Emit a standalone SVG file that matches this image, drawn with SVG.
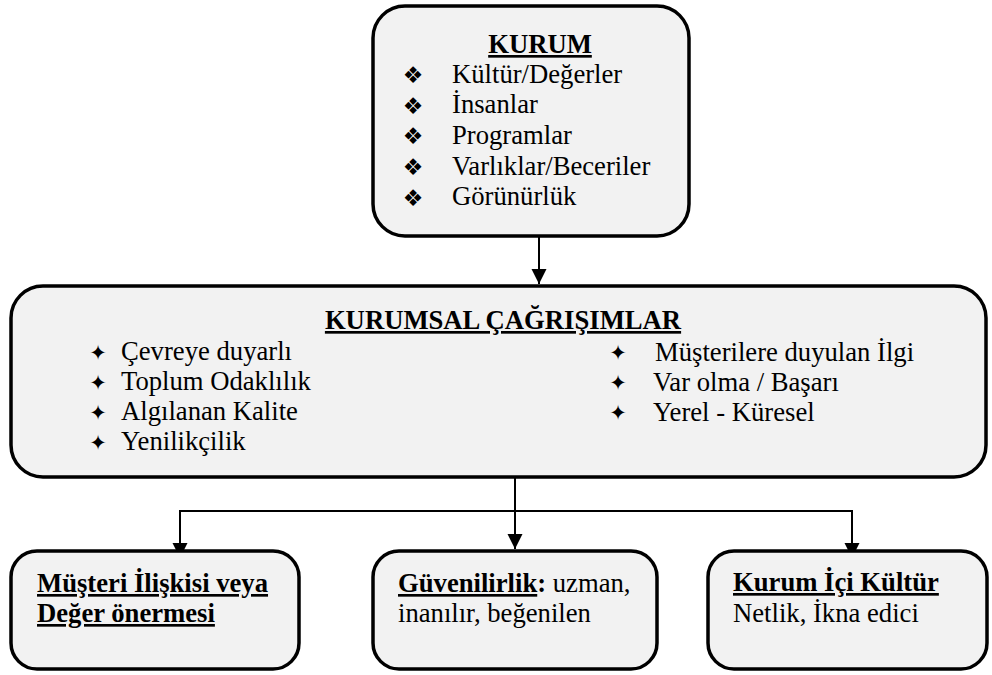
<svg xmlns="http://www.w3.org/2000/svg" width="992" height="675" viewBox="0 0 992 675">
<style>
.box{fill:#f2f2f2;stroke:#000;stroke-width:3.5}
.t{font-family:'Liberation Serif','DejaVu Serif',serif;font-size:26.67px;fill:#000}
.b{font-weight:bold}
.u{text-decoration:underline}
.sym{font-family:'DejaVu Sans',sans-serif;fill:#000;text-anchor:middle}
.c{fill:none;stroke:#000;stroke-width:2}
</style>
<defs>
<marker id="ah" markerWidth="16" markerHeight="16" refX="15" refY="7.5" orient="auto" markerUnits="userSpaceOnUse">
<path d="M0,0 L15,7.5 L0,15 z" fill="#000"/>
</marker>
</defs>
<rect width="992" height="675" fill="#fff"/>
<g id="connectors">
<line class="c" x1="539" y1="237" x2="539" y2="284" marker-end="url(#ah)"/>
<line class="c" x1="515" y1="478" x2="515" y2="549" marker-end="url(#ah)"/>
<polyline class="c" points="180,558 180,511 852,511 852,558"/>
<line class="c" x1="180" y1="511" x2="180" y2="558" marker-end="url(#ah)"/>
<line class="c" x1="852" y1="511" x2="852" y2="558" marker-end="url(#ah)"/>
</g>
<g id="kurum">
<rect class="box" x="373" y="6" width="316" height="230" rx="32"/>
<text class="t b u" x="540" y="53" text-anchor="middle">KURUM</text>
<g class="sym" font-size="23">
<text x="413" y="83">❖</text>
<text x="413" y="113.7">❖</text>
<text x="413" y="144.4">❖</text>
<text x="413" y="175.1">❖</text>
<text x="413" y="205.8">❖</text>
</g>
<text class="t" x="452" y="82.5">Kültür/Değerler</text>
<text class="t" x="452" y="113.2">İnsanlar</text>
<text class="t" x="452" y="143.9">Programlar</text>
<text class="t" x="452" y="174.6">Varlıklar/Beceriler</text>
<text class="t" x="452" y="205.3">Görünürlük</text>
</g>
<g id="kurumsal">
<rect class="box" x="11" y="286" width="975" height="191" rx="32"/>
<text class="t b u" x="503" y="329" text-anchor="middle">KURUMSAL ÇAĞRIŞIMLAR</text>
<g class="sym" font-size="21">
<text x="98" y="360">✦</text>
<text x="98" y="390">✦</text>
<text x="98" y="420">✦</text>
<text x="98" y="450">✦</text>
<text x="618" y="360">✦</text>
<text x="618" y="390">✦</text>
<text x="618" y="420">✦</text>
</g>
<text class="t" x="121" y="360">Çevreye duyarlı</text>
<text class="t" x="121" y="390">Toplum Odaklılık</text>
<text class="t" x="121" y="420">Algılanan Kalite</text>
<text class="t" x="121" y="450">Yenilikçilik</text>
<text class="t" x="655" y="361">Müşterilere duyulan İlgi</text>
<text class="t" x="653" y="391">Var olma / Başarı</text>
<text class="t" x="653" y="421">Yerel - Küresel</text>
</g>
<g id="musteri">
<rect class="box" x="11" y="551" width="288" height="118" rx="26"/>
<text class="t b u" x="37" y="592">Müşteri İlişkisi veya</text>
<text class="t b u" x="37" y="622">Değer önermesi</text>
</g>
<g id="guvenilirlik">
<rect class="box" x="373" y="551" width="284" height="118" rx="26"/>
<text class="t" x="398" y="592"><tspan class="b u">Güvenilirlik</tspan><tspan class="b">:</tspan> uzman,</text>
<text class="t" x="398" y="622">inanılır, beğenilen</text>
</g>
<g id="kurumici">
<rect class="box" x="708" y="551" width="279" height="118" rx="26"/>
<text class="t b u" x="733" y="591">Kurum İçi Kültür</text>
<text class="t" x="733" y="622">Netlik, İkna edici</text>
</g>
</svg>
